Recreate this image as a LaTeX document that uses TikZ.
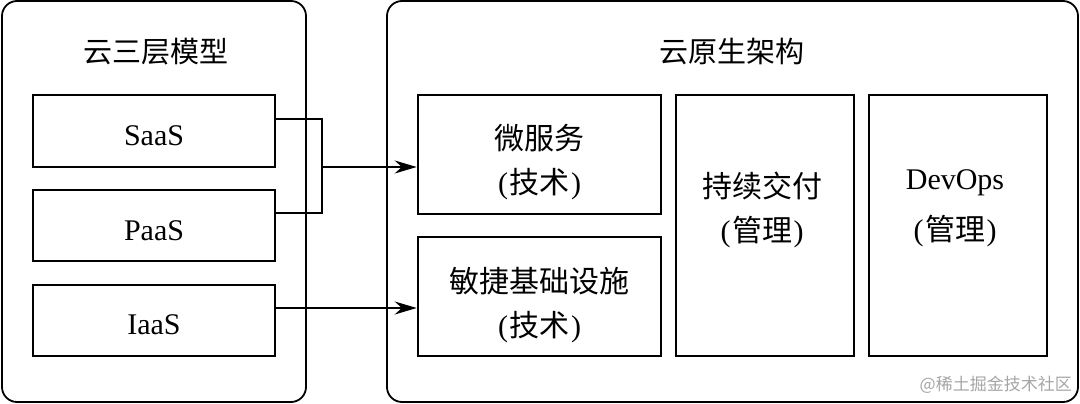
\documentclass[tikz,border=0pt]{standalone}
\usepackage{fontspec}
\setmainfont{Liberation Serif}
\newfontfamily\cjk{Noto Sans CJK SC}
\usetikzlibrary{arrows.meta}
\tikzset{
  container/.style={draw=black, line width=1.8pt, rounded corners=15pt},
  boxnode/.style={draw=black, line width=2.6pt, inner sep=0pt},
  lbl/.style={font=\fontsize{30}{34}\selectfont, inner sep=0pt},
  ttl/.style={font=\fontsize{29}{34}\selectfont\cjk, inner sep=0pt},
  conn/.style={line width=1.6pt},
  arr/.style={conn, -{Stealth[length=22pt,width=13pt]}},
  wm/.style={font=\fontsize{17}{20}\selectfont\cjk, text=black!35, inner sep=0pt}
}
\newcommand{\pl}[1]{(\kern1.5pt{\cjk #1}\kern1.5pt)}
\begin{document}
\begin{tikzpicture}[x=1pt,y=-1pt]
\useasboundingbox (0,0) rectangle (1080,404);
\fill[white] (0,0) rectangle (1080,404);
% containers
\draw[container] (2,1) rectangle (306,402);
\draw[container] (387,1) rectangle (1078,402);
\node[ttl] (t1) at (156,52) {云三层模型};
\node[ttl] (t2) at (732,52) {云原生架构};
% left boxes
\node[boxnode, minimum width=242pt, minimum height=72pt] (saas) at (154,131) {};
\node[boxnode, minimum width=242pt, minimum height=71pt] (paas) at (154,225.5) {};
\node[boxnode, minimum width=242pt, minimum height=71pt] (iaas) at (154,320.5) {};
\node[lbl] (saast) at (154,136) {SaaS};
\node[lbl] (paast) at (154,231) {PaaS};
\node[lbl] (iaast) at (154,325) {IaaS};
% right boxes
\node[boxnode, minimum width=243pt, minimum height=119pt] (micro) at (539.5,154.5) {};
\node[boxnode, minimum width=243pt, minimum height=119pt] (infra) at (539.5,296.5) {};
\node[boxnode, minimum width=178pt, minimum height=261pt] (cd) at (765,225.5) {};
\node[boxnode, minimum width=178pt, minimum height=261pt] (devops) at (958,225.5) {};
\node[lbl] (microa) at (539.5,138) {\cjk 微服务};
\node[lbl] (microb) at (539.5,184) {\pl{技术}};
\node[lbl] (infraa) at (539.5,281) {\cjk 敏捷基础设施};
\node[lbl] (infrab) at (539.5,327) {\pl{技术}};
\node[lbl] (cda) at (762,186) {\cjk 持续交付};
\node[lbl] (cdb) at (762,232) {\pl{管理}};
\node[lbl] (dva) at (955,183) {DevOps};
\node[lbl] (dvb) at (955,231) {\pl{管理}};
% connectors
\coordinate (j) at (322,167);
\draw[conn] ([yshift=12pt]saas.east) -| (j);
\draw[conn] ([yshift=12.5pt]paas.east) -| (j);
\draw[arr] (j) -- ([yshift=-12.5pt]micro.west);
\draw[arr] ([yshift=12.5pt]iaas.east) -- ([yshift=-11.5pt]infra.west);
% watermark
\node[wm, anchor=east] (wmk) at (1072,385) {@稀土掘金技术社区};
\end{tikzpicture}
\end{document}
